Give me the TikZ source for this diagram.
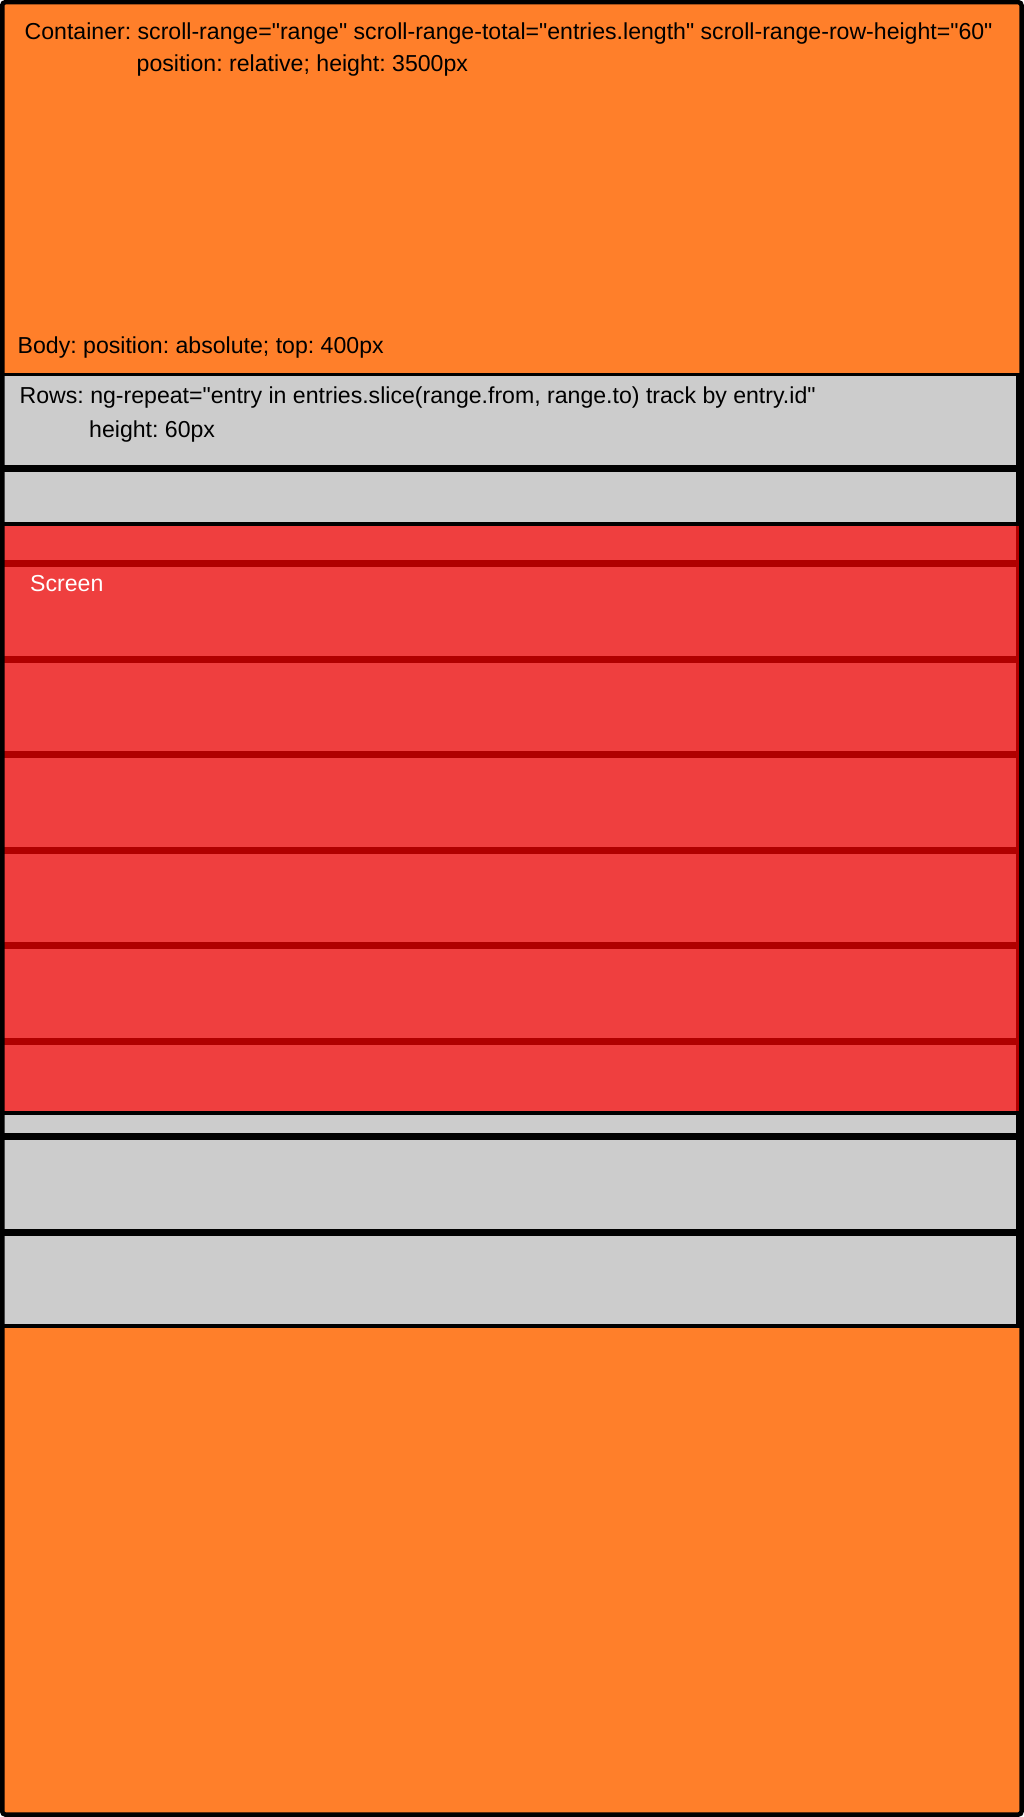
\documentclass[tikz,border=0pt]{standalone}
\usepackage{fontspec}
\setmainfont{Liberation Sans}[Ligatures=TeXOff]
\usepackage{tikz}
\definecolor{containerorange}{HTML}{FF7F2A}
\definecolor{rowgray}{HTML}{CCCCCC}
\frenchspacing

\begin{document}
\begin{tikzpicture}[x=1pt,y=-1pt,
  lbl/.style={anchor=base west,inner sep=0pt,font=\fontsize{23.1}{27}\selectfont},
  rowbox/.style={fill=rowgray,draw=black,line width=3.5pt},
  screenbox/.style={fill=red,fill opacity=0.69,draw=black,line width=4pt}]
 \useasboundingbox (0,0) rectangle (1024,1817);
 % ---- container
 \fill[containerorange,rounded corners=3pt] (2.25,2.25) rectangle (1021.5,1814.5);
 \node[lbl] (container) at (24.5,39.5) {Container: scroll-range="range" scroll-range-total="entries.length" scroll-range-row-height="60"};
 \node[lbl] (containercss) at (136.5,72) {position: relative; height: 3500px};
 \node[lbl] (body) at (17.5,353.5) {Body: position: absolute; top: 400px};
 % ---- rows
 \foreach \i in {0,...,9}
  \draw[rowbox] (1.75,{374.5+95.5*\i}) rectangle (1017.75,{466.5+95.5*\i});
 \node[lbl] (rows) at (19.5,403) {Rows: ng-repeat="entry in entries.slice(range.from, range.to) track by entry.id"};
 \node[lbl] (rowcss) at (89,437) {height: 60px};
 % ---- screen
 \draw[screenbox] (2,523.7) rectangle (1021,1113);
 \node[lbl,white] (screen) at (30,591) {Screen};
 % ---- container border on top
 \draw[line width=4.5pt,rounded corners=3pt] (2.25,2.25) rectangle (1021.5,1814.5);
\end{tikzpicture}
\end{document}
